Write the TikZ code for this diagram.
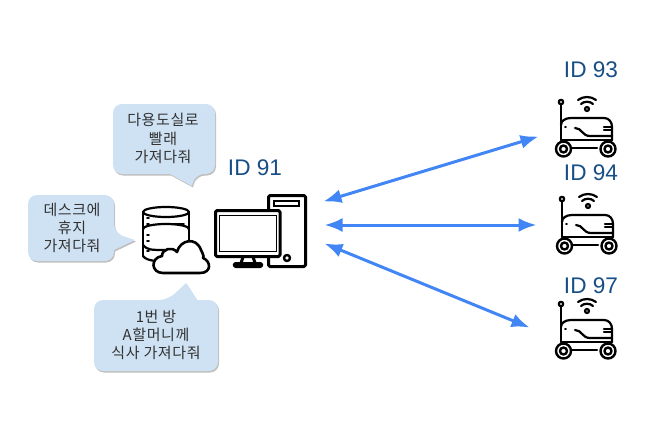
\documentclass[tikz,border=0pt]{standalone}
\usepackage{fontspec}
\setmainfont{Liberation Sans}
\newfontfamily\krfont[LetterSpace=4]{Noto Sans CJK KR}
\usetikzlibrary{arrows.meta,shadows}
\definecolor{myblue}{RGB}{66,133,244}
\definecolor{idblue}{RGB}{23,78,134}
\definecolor{bubblefill}{RGB}{207,226,243}
\definecolor{bubbletext}{RGB}{50,50,50}
\tikzset{
bubble/.style={fill=bubblefill,rounded corners=9pt,drop shadow={shadow xshift=1pt,shadow yshift=-1.5pt,opacity=0.25,fill=black}},
bubbletxt/.style={align=center,text=bubbletext,font=\krfont\fontsize{15}{18.3}\selectfont},
idlabel/.style={text=idblue,font=\fontsize{22.6}{24}\selectfont},
icon/.style={line width=2.2pt,line join=round,line cap=round},
pcline/.style={line width=3pt,line join=round,line cap=round,rounded corners=1.5pt},
link/.style={draw=myblue,line width=3pt,{Latex[length=18pt,width=14pt]}-{Latex[length=18pt,width=14pt]}},
}
\begin{document}
\begin{tikzpicture}[x=1pt,y=-1pt]
\useasboundingbox (0,0) rectangle (648,436);

% speech bubbles
\path[bubble] (113,104) -- (215,104) -- (215,174) -- (195,174) [sharp corners] -- (192,186) -- (170,174) [rounded corners=9pt] -- (113,174) -- cycle;
\node[bubbletxt] (towel) at (163,138.5) {다용도실로\\빨래\\가져다줘};

\path[bubble] (28,195) -- (114,195) -- (114,233) [sharp corners] -- (135,240) -- (114,250) [rounded corners=9pt] -- (114,261) -- (28,261) -- cycle;
\node[bubbletxt] (tissue) at (72,228) {데스크에\\휴지\\가져다줘};

\path[bubble] (94,300) -- (168,300) [sharp corners] -- (186,283) -- (197,300) [rounded corners=9pt] -- (218,300) -- (218,371) -- (94,371) -- cycle;
\node[bubbletxt] (meal) at (156,335) {1번 방\\A할머니께\\식사 가져다줘};

% database and cloud
\draw[icon] (143,212) arc[start angle=180,end angle=540,x radius=23,y radius=5];
\draw[icon] (143,212) -- (143,256);
\draw[icon] (189,212) -- (189,240);
\draw[icon] (143,229) arc[start angle=180,end angle=0,x radius=23,y radius=-5];
\draw[icon] (143,245) .. controls (147,250) and (151,250) .. (166,250);
\draw[icon] (143,256) .. controls (145,259) and (149,260) .. (155,261);
\draw[icon,line width=1.6pt] (147,218) -- (149,218) (147,224) -- (149,224) (147,235) -- (149,235) (147,241) -- (149,241) (147,251) -- (149,251);
\draw[icon,line width=1.6pt] (174,224) -- (184,224);
\draw[icon,line width=2.6pt,fill=white] (163,273) .. controls (151,273) and (150,258) .. (162,256) .. controls (162,249) and (172,246) .. (177,252) .. controls (180,240) and (196,236) .. (201,250) .. controls (204,256) and (204,257) .. (203,258) .. controls (211,261) and (212,273) .. (200,273) -- cycle;

% computer
\draw[pcline] (215.5,210.5) rectangle (280,256.5);
\draw[line width=1.8pt] (219.5,215.5) rectangle (276.5,251.5);
\draw[pcline] (243,257) -- (241,263) (253,257) -- (255,263);
\draw[pcline] (234,263.5) rectangle (262,266.5);
\draw[pcline] (268.5,209) -- (268.5,195.5) -- (305.5,195.5) -- (305.5,266.5) -- (268.5,266.5) -- (268.5,257);
\draw[line width=1.8pt] (274,201) rectangle (299,206);
\draw[icon,line width=2.4pt] (287,258) circle (3);
\node[idlabel] (pc) at (255,168) {ID 91};

% robots
\node[idlabel] (id93) at (591,70) {ID 93};
\node[idlabel] (id94) at (591,173) {ID 94};
\node[idlabel] (id97) at (591,286) {ID 97};
\foreach \dx/\dy in {0/0,1/97,0/202}{
\begin{scope}[xshift=\dx pt,yshift=-\dy pt]
\draw[icon,fill=white] (561,102) circle (2.2);
\draw[icon] (561,105) -- (561,140);
\draw[icon] (561,125) .. controls (561,121) and (565,118) .. (571,118) -- (604,118) .. controls (609,118) and (612,122) .. (612,127) -- (612,140);
\draw[icon] (561,140) -- (612,140);
\draw[icon] (575,128) .. controls (582,128) and (582,136) .. (590,136) -- (612,136);
\draw[icon,line width=2.4pt] (604,127) -- (612,127) (604,130) -- (612,130);
\draw[icon,line width=1.6pt] (565,127) -- (566,127);
\draw[icon,line width=2.4pt,fill=white] (563.5,149) circle (7.5) (563.5,149) circle (3.5);
\draw[icon,line width=2.4pt,fill=white] (608,149) circle (7.5) (608,149) circle (3.5);
\draw[icon] (572,148) -- (597,148);
\draw[icon] (587,109) circle (2);
\draw[icon] (581,104) .. controls (584,101) and (590,101) .. (593,104);
\draw[icon] (578,100) .. controls (583,96) and (591,96) .. (596,100);
\end{scope}
}

% links
\coordinate (a1) at (323.5,201.5);
\coordinate (a2) at (538.5,136.5);
\coordinate (b1) at (324.5,225);
\coordinate (b2) at (536.5,225);
\coordinate (c1) at (324.5,243.5);
\coordinate (c2) at (529.5,327.5);
\draw[link] (a1) -- (a2);
\draw[link] (b1) -- (b2);
\draw[link] (c1) -- (c2);
\end{tikzpicture}
\end{document}
